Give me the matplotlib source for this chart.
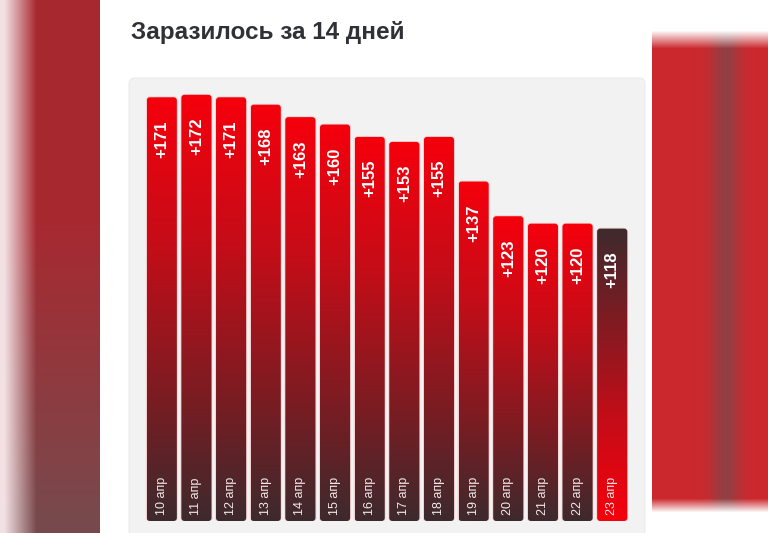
import numpy as np
import matplotlib

matplotlib.use("Agg")
import matplotlib.pyplot as plt
from matplotlib.colors import LinearSegmentedColormap
from matplotlib.patches import FancyBboxPatch, Rectangle

plt.rcParams["font.family"] = ["Liberation Sans", "DejaVu Sans"]

# data
dates = ["10 апр", "11 апр", "12 апр", "13 апр", "14 апр", "15 апр", "16 апр",
         "17 апр", "18 апр", "19 апр", "20 апр", "21 апр", "22 апр", "23 апр"]
cases = [171, 172, 171, 168, 163, 160, 155, 153, 155, 137, 123, 120, 120, 118]
title = "Заразилось за 14 дней"

W, H = 768, 533
fig = plt.figure(figsize=(W / 100, H / 100), dpi=100)

# blurred photo-like backdrop on both sides
bg = fig.add_axes([0, 0, 1, 1])
bg.set_xlim(0, W)
bg.set_ylim(H, 0)
bg.axis("off")

xs = np.arange(W)[None, :]
ys = np.arange(H)[:, None]
red = np.array([0.66, 0.16, 0.19])
dark = np.array([0.47, 0.29, 0.30])
bright = np.array([0.80, 0.16, 0.18])
pale = np.array([0.95, 0.88, 0.89])

# left strip: pale at far edge, red, a bit greyer lower down
fade_l = np.clip((xs - 4) / 32.0, 0, 1)
mix_l = np.clip((ys - 220) / 300.0, 0, 1)
col_l = red * (1 - mix_l[..., None]) + dark * mix_l[..., None]
left = pale * (1 - fade_l[..., None]) + col_l * fade_l[..., None]

# right strip: red with a darker vertical band, white above/below
band = np.exp(-((xs - 725) / 14.0) ** 2)
col_r = bright * (1 - band[..., None] * 0.7) + dark * (band[..., None] * 0.7)
vert = np.clip((ys - 30) / 18.0, 0, 1) * np.clip((512 - ys) / 14.0, 0, 1)
right = np.ones((H, W, 3)) * (1 - vert[..., None]) + col_r * vert[..., None]

img = np.where(xs[..., None] < 384, left, right)
bg.imshow(img, extent=[0, W, H, 0], aspect="auto", zorder=0)

# white card and grey panel
bg.add_patch(Rectangle((100, -5), 552, H + 10, facecolor="white", edgecolor="none", zorder=1))
bg.add_patch(FancyBboxPatch((129, 78), 516, 480, boxstyle="round,pad=0,rounding_size=6",
                            facecolor="#f2f2f2", edgecolor="#ececec", lw=0.8, zorder=2))
bg.text(131, 33, title, fontsize=17.5, fontweight="bold", color="#2f3136",
        va="center", ha="left", zorder=3)

# bars
ax = fig.add_axes([141 / W, (H - 521) / H, 492 / W, 446 / H])
ax.set_xlim(-0.6, len(cases) - 0.4)
ax.set_ylim(0, 180)
ax.axis("off")
ax.patch.set_visible(False)

cmap = LinearSegmentedColormap.from_list(
    "bar", [(0.0, "#3d2a2d"), (0.3, "#7c1c22"), (0.65, "#c40d18"), (1.0, "#f5000c")])
grad = np.linspace(0, 1, 256)[:, None]

fig.canvas.draw()
px_x = ax.transData.transform((1, 0))[0] - ax.transData.transform((0, 0))[0]
px_y = ax.transData.transform((0, 1))[1] - ax.transData.transform((0, 0))[1]
aspect = px_x / px_y

bw = 0.87
for i, (d, v) in enumerate(zip(dates, cases)):
    last = i == len(cases) - 1
    g = grad[::-1] if not last else grad
    im = ax.imshow(g, cmap=cmap, extent=[i - bw / 2, i + bw / 2, 0, v],
                   aspect="auto", origin="upper", zorder=2)
    clip = FancyBboxPatch((i - bw / 2, 0), bw, v,
                          boxstyle="round,pad=0,rounding_size=0.09",
                          mutation_aspect=aspect, transform=ax.transData,
                          facecolor="none", edgecolor="none")
    ax.add_patch(clip)
    im.set_clip_path(clip)
    glow = FancyBboxPatch((i - bw / 2, 0), bw, v,
                          boxstyle="round,pad=0,rounding_size=0.09",
                          mutation_aspect=aspect, facecolor="none",
                          edgecolor="#f4b8b8", lw=1.2, alpha=0.6, zorder=1)
    ax.add_patch(glow)
    ax.annotate(f"+{v}", (i, v), xytext=(0, -23), textcoords="offset pixels",
                rotation=90, ha="center", va="top", color="white",
                fontsize=12, fontweight="bold", zorder=3)
    ax.annotate(d, (i, 0), xytext=(0, 6), textcoords="offset pixels",
                rotation=90, ha="center", va="bottom", color="#f2eaea",
                fontsize=9, zorder=3)

fig.savefig("out.png", dpi=100)
